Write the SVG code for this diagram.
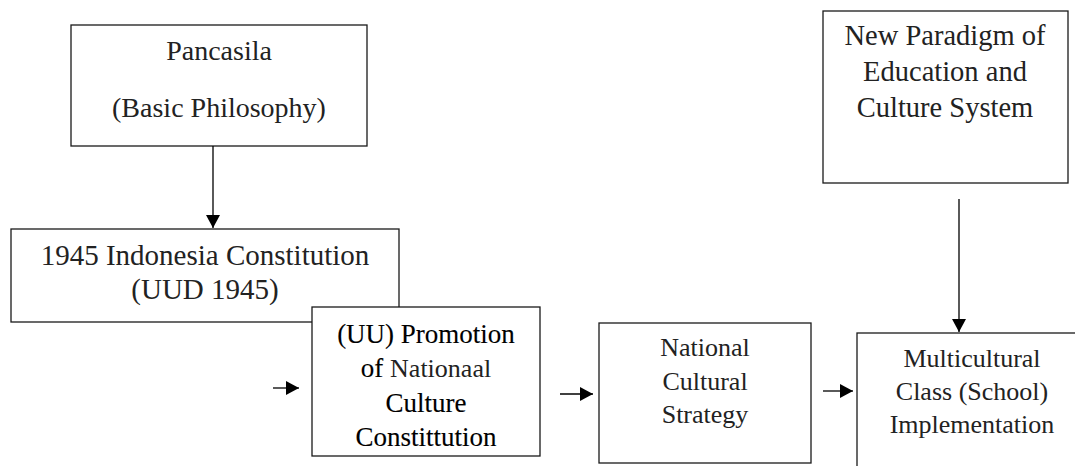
<svg xmlns="http://www.w3.org/2000/svg" width="1075" height="466" viewBox="0 0 1075 466">
<style>
  .box { fill: #fff; stroke: #1a1a1a; stroke-width: 1.3; }
  .t { font-family: "Liberation Serif", "Times New Roman", serif; fill: #222; text-anchor: middle; }
  .dark { fill: #000; stroke: #000; stroke-width: 0.12; }
  .edge { stroke: #000; stroke-width: 1.3; fill: none; }
</style>
<defs>
  <marker id="ah" markerUnits="userSpaceOnUse" markerWidth="14" markerHeight="14" refX="13" refY="7" orient="auto">
    <path d="M0,0 L13,7 L0,14 Z" fill="#000"/>
  </marker>
</defs>
<g id="node-pancasila">
  <rect class="box" x="71" y="25" width="296" height="121"/>
  <text class="t" x="219" y="60" font-size="28">Pancasila</text>
  <text class="t" x="219" y="117" font-size="28">(Basic Philosophy)</text>
</g>
<g id="node-uud1945">
  <rect class="box" x="11" y="229" width="388" height="93"/>
  <text class="t" x="205" y="265" font-size="29">1945 Indonesia Constitution</text>
  <text class="t" x="205" y="299" font-size="29">(UUD 1945)</text>
</g>
<g id="node-promotion">
  <rect class="box" x="312" y="307" width="228" height="149"/>
  <text class="t dark" x="426" y="343" font-size="27">(UU) Promotion</text>
  <text class="t" x="426" y="377" font-size="26"><tspan class="dark" font-size="27">of </tspan><tspan>Nationaal</tspan></text>
  <text class="t dark" x="426" y="412" font-size="27">Culture</text>
  <text class="t dark" x="426" y="446" font-size="27">Constittution</text>
</g>
<g id="node-strategy">
  <rect class="box" x="599" y="323" width="212" height="140"/>
  <text class="t" x="705" y="356" font-size="26">National</text>
  <text class="t" x="705" y="390" font-size="26">Cultural</text>
  <text class="t" x="705" y="423" font-size="26">Strategy</text>
</g>
<g id="node-multicultural">
  <rect class="box" x="857" y="333" width="240" height="150"/>
  <text class="t" x="972" y="367" font-size="26">Multicultural</text>
  <text class="t" x="972" y="400" font-size="26">Class (School)</text>
  <text class="t" x="972" y="433" font-size="26">Implementation</text>
</g>
<g id="node-paradigm">
  <rect class="box" x="823" y="11" width="245" height="172"/>
  <text class="t" x="945" y="45" font-size="28.5">New Paradigm of</text>
  <text class="t" x="945" y="81" font-size="28.5">Education and</text>
  <text class="t" x="945" y="117" font-size="28.5">Culture System</text>
</g>
<g id="connectors">
  <line class="edge" x1="213" y1="146" x2="213" y2="228" marker-end="url(#ah)"/>
  <line class="edge" x1="959" y1="199" x2="959" y2="332" marker-end="url(#ah)"/>
  <line class="edge" x1="273" y1="388" x2="299" y2="388" marker-end="url(#ah)"/>
  <line class="edge" x1="560" y1="394" x2="593" y2="394" marker-end="url(#ah)"/>
  <line class="edge" x1="823" y1="391" x2="853" y2="391" marker-end="url(#ah)"/>
</g>
</svg>
